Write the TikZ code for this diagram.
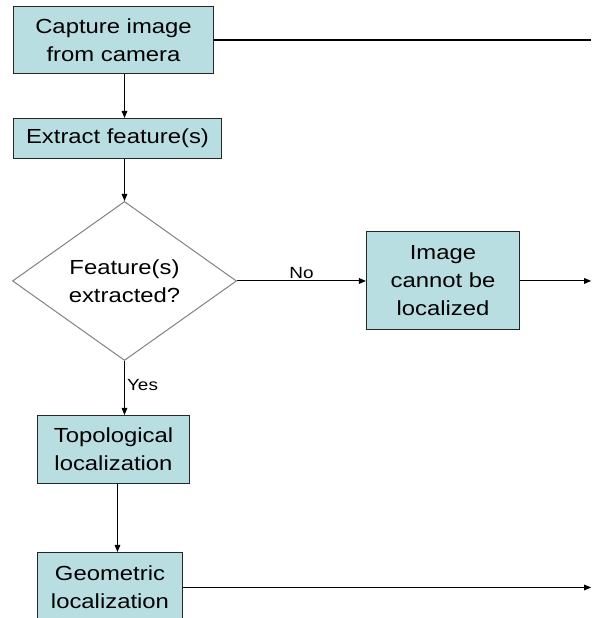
\documentclass[tikz,border=0pt]{standalone}
\usepackage{fontspec}
\setmainfont{Liberation Sans}[FakeStretch=1.17]
\usetikzlibrary{arrows.meta,shapes,positioning}

\definecolor{boxfill}{RGB}{185,222,226}

\begin{document}
\begin{tikzpicture}[node distance=1.1cm, auto,
        font=\fontsize{14.5}{19.9}\selectfont]
    \tikzstyle{block} = [rectangle, draw=black!85, fill=boxfill,
    align=center, inner sep=2pt, line width=0.7pt]
    \tikzstyle{decision} = [diamond, draw=black!50, align=center,
    aspect=1.4, inner sep=0pt, minimum width=5.6cm, minimum height=3.975cm,
    line width=0.7pt]
    \tikzstyle{arrow} = [line width=0.7pt, -{Triangle[length=5pt,width=4pt]}]
    \tikzstyle{branch} = [font=\fontsize{11.5}{13}\selectfont, inner sep=1.5pt]

    \useasboundingbox (0,0) rectangle (14.8,-15.45);
    \clip (0,0) rectangle (14.8,-15.45);

    \node [block, minimum width=5cm, minimum height=1.675cm, anchor=north west]
        (capture) at (0.325,-0.15) {Capture image\\from camera};
    \node [block, minimum width=5.2cm, minimum height=1cm,
        below=1.1cm of capture.south west, anchor=north west] (extract) {Extract feature(s)};
    \node [decision, below=1.05cm of extract.south, xshift=0.175cm] (decide) {Feature(s)\\extracted?};
    \node [block, minimum width=3.825cm, minimum height=2.45cm,
        right=3.225cm of decide.east] (fail) {Image\\cannot be\\localized};
    \node [block, minimum width=3.8cm, minimum height=1.7cm, anchor=north west]
        (topo) at (0.925,-10.375) {Topological\\localization};
    \node [block, minimum width=3.625cm, minimum height=1.75cm,
        below=1.7cm of topo.south west, anchor=north west] (geo) {Geometric\\localization};

    % lines leave through the right edge
    \coordinate (rim) at (14.78,0);

    \draw [arrow] (capture.south -| decide.north) -- (extract.north -| decide.north);
    \draw [arrow] (extract.south -| decide.north) -- (decide.north);
    \draw [arrow] (decide.east) -- node [above, branch] {No} (fail.west);
    \draw [arrow] (decide.south) -- node [right, branch, pos=0.45] {Yes} (topo.north -| decide.south);
    \draw [arrow] ([xshift=0.1cm]topo.south) -- ([xshift=0.1cm]topo.south |- geo.north);

    \draw [line width=1pt] (capture.east) -- (capture.east -| rim);
    \draw [arrow] (fail.east) -- (fail.east -| rim);
    \draw [arrow] (geo.east) -- (geo.east -| rim);
\end{tikzpicture}
\end{document}
